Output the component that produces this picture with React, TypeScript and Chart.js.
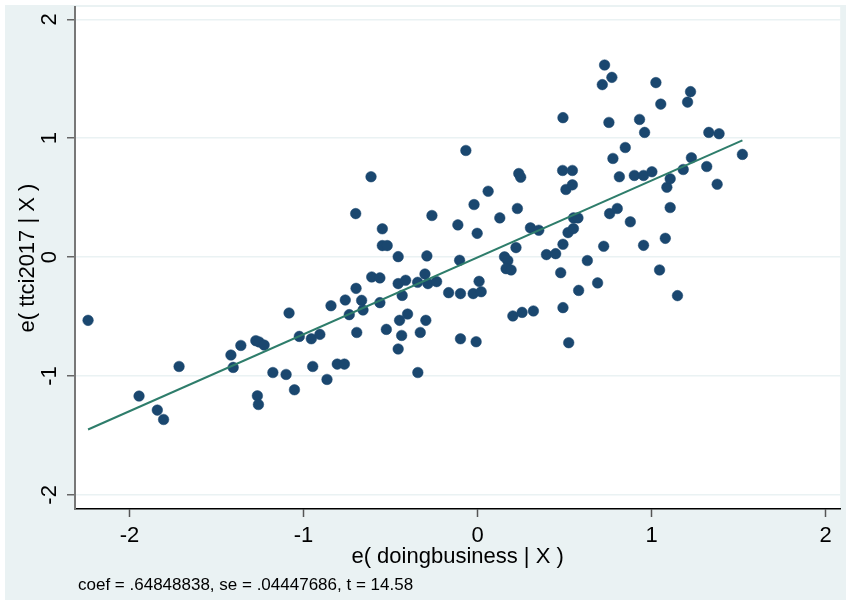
import React, { useEffect, useRef } from 'react';
import { Chart, registerables } from 'chart.js';

Chart.register(...registerables);

const xValues = [
  -2.238, -1.945, -1.840, -1.804, -1.715, -1.417, -1.404, -1.360, -1.274, -1.255,
  -1.226, -1.265, -1.259, -1.176, -1.100, -1.083, -1.052, -1.024, -0.955, -0.906,
  -0.947, -0.865, -0.842, -0.806, -0.765, -0.760, -0.737, -0.700, -0.698, -0.694,
  -0.666, -0.658, -0.612, -0.608, -0.561, -0.561, -0.547, -0.547, -0.519, -0.524,
  -0.456, -0.456, -0.448, -0.456, -0.436, -0.433, -0.413, -0.402, -0.344, -0.343,
  -0.329, -0.302, -0.297, -0.291, -0.285, -0.262, -0.235, -0.166, -0.113, -0.103,
  -0.098, -0.098, -0.067, -0.025, -0.020, -0.008, -0.002, 0.009, 0.021, 0.061,
  0.128, 0.155, 0.174, 0.164, 0.193, 0.203, 0.221, 0.229, 0.237, 0.248,
  0.256, 0.304, 0.321, 0.352, 0.396, 0.449, 0.478, 0.491, 0.489, 0.545,
  0.491, 0.491, 0.508, 0.545, 0.520, 0.551, 0.552, 0.577, 0.524, 0.581,
  0.631, 0.690, 0.717, 0.730, 0.772, 0.725, 0.755, 0.759, 0.778, 0.803,
  0.815, 0.849, 0.878, 0.901, 0.931, 0.954, 0.960, 0.954, 1.002, 1.025,
  1.046, 1.053, 1.079, 1.088, 1.107, 1.107, 1.149, 1.182, 1.207, 1.224,
  1.229, 1.317, 1.329, 1.377, 1.388, 1.522,
];

const yValues = [
  -0.532, -1.169, -1.287, -1.366, -0.920, -0.824, -0.928, -0.743, -0.703, -0.714,
  -0.740, -1.167, -1.240, -0.971, -0.987, -0.470, -1.116, -0.667, -0.687, -0.650,
  -0.920, -1.029, -0.409, -0.900, -0.900, -0.361, -0.484, 0.366, -0.263, -0.634,
  -0.364, -0.445, 0.676, -0.167, -0.175, -0.383, 0.238, 0.097, 0.097, -0.608,
  0.004, -0.223, -0.532, -0.773, -0.659, -0.322, -0.195, -0.479, -0.212, -0.971,
  -0.634, -0.142, -0.532, 0.010, -0.223, 0.350, -0.206, -0.299, 0.271, -0.027,
  -0.307, -0.687, 0.897, -0.307, 0.442, -0.712, 0.200, -0.204, -0.291, 0.554,
  0.330, 0.002, -0.029, -0.097, -0.108, -0.495, 0.080, 0.409, 0.703, 0.672,
  -0.465, 0.246, -0.453, 0.226, 0.021, 0.029, -0.131, 1.173, 0.729, 0.729,
  0.108, -0.425, 0.569, 0.608, 0.206, 0.240, 0.330, 0.330, -0.720, -0.280,
  -0.029, -0.217, 1.451, 1.616, 1.512, 0.091, 1.133, 0.366, 0.830, 0.409,
  0.676, 0.922, 0.297, 0.687, 1.158, 0.687, 1.049, 0.099, 0.718, 1.468,
  -0.108, 1.287, 0.158, 0.588, 0.659, 0.417, -0.324, 0.737, 1.304, 1.392,
  0.836, 0.762, 1.049, 0.613, 1.038, 0.864,
];

// Fitted line endpoints
const fitX = [-2.238, 1.522];
const fitY = [-1.450, 0.982];

const xTicks = [-2, -1, 0, 1, 2];
const yTicks = [-2, -1, 0, 1, 2];

const xTitle = 'e( doingbusiness | X )';
const yTitle = 'e( ttci2017 | X )';
const noteText = 'coef = .64848838, se = .04447686, t = 14.58';

const FONT = '"Liberation Sans", Arial, sans-serif';
const BG = '#EAF2F3';

const decorPlugin = {
  id: 'decor',
  beforeDraw(chart: any) {
    const { ctx, width, height, chartArea: a } = chart;
    ctx.save();
    ctx.fillStyle = '#ffffff';
    ctx.fillRect(0, 0, width, height);
    ctx.fillStyle = BG;
    ctx.fillRect(5, 5, width - 5, height - 5);
    ctx.fillStyle = '#ffffff';
    ctx.fillRect(a.left, a.top, a.right - a.left, a.bottom - a.top);
    ctx.restore();
  },
  afterDraw(chart: any) {
    const { ctx, chartArea: a } = chart;
    const ys = chart.scales.y;
    ctx.save();
    ctx.fillStyle = '#000000';
    ctx.textAlign = 'center';
    ctx.textBaseline = 'middle';
    ctx.font = `22px ${FONT}`;
    for (const v of yTicks) {
      const py = ys.getPixelForValue(v);
      ctx.save();
      ctx.translate(50, py);
      ctx.rotate(-Math.PI / 2);
      ctx.fillText(String(v), 0, 0);
      ctx.restore();
    }
    ctx.save();
    ctx.translate(28, (a.top + a.bottom) / 2);
    ctx.rotate(-Math.PI / 2);
    ctx.fillText(yTitle, 0, 0);
    ctx.restore();
    ctx.fillText(xTitle, (a.left + a.right) / 2, 557);
    ctx.font = `17px ${FONT}`;
    ctx.textAlign = 'left';
    ctx.fillText(noteText, 78, 585);
    ctx.restore();
  },
};

export default function App() {
  const ref = useRef<HTMLCanvasElement | null>(null);

  useEffect(() => {
    document.body.style.margin = '0';
    const canvas = ref.current;
    if (!canvas) return;
    const points = xValues.map((x, i) => ({ x, y: yValues[i] }));
    const fit = fitX.map((x, i) => ({ x, y: fitY[i] }));
    const chart = new Chart(canvas, {
      type: 'scatter',
      data: {
        datasets: [
          {
            type: 'line',
            data: fit,
            borderColor: '#2E7D6B',
            borderWidth: 2,
            pointRadius: 0,
            fill: false,
            order: 0,
          } as any,
          {
            data: points,
            backgroundColor: '#1A476F',
            borderColor: '#1A476F',
            borderWidth: 0.5,
            pointRadius: 5.3,
            order: 1,
          },
        ],
      },
      options: {
        animation: false,
        responsive: false,
        devicePixelRatio: 1,
        layout: { padding: { left: 5, top: 7, right: 4, bottom: 0 } },
        plugins: {
          legend: { display: false },
          tooltip: { enabled: false },
          title: { display: false },
        },
        scales: {
          x: {
            type: 'linear',
            min: -2.313,
            max: 2.084,
            afterBuildTicks: (scale: any) => {
              scale.ticks = xTicks.map((v) => ({ value: v }));
            },
            afterFit: (scale: any) => {
              scale.height = 91;
            },
            ticks: {
              color: '#000000',
              font: { family: FONT, size: 22 },
              padding: 6,
              maxRotation: 0,
              minRotation: 0,
              autoSkip: false,
            },
            grid: {
              drawOnChartArea: false,
              drawTicks: true,
              tickLength: 8,
              tickColor: '#555555',
              tickWidth: 1.5,
            },
            border: { display: true, color: '#000000', width: 1.5 },
          },
          y: {
            type: 'linear',
            min: -2.119,
            max: 2.104,
            afterBuildTicks: (scale: any) => {
              scale.ticks = yTicks.map((v) => ({ value: v }));
            },
            afterFit: (scale: any) => {
              scale.width = 70;
            },
            ticks: { display: false },
            grid: {
              color: BG,
              lineWidth: 1.5,
              drawTicks: true,
              tickLength: 8,
              tickColor: '#666666',
              tickWidth: 1.5,
            },
            border: { display: true, color: '#777777', width: 2 },
          },
        },
      },
      plugins: [decorPlugin],
    } as any);
    return () => chart.destroy();
  }, []);

  return (
    <canvas
      ref={ref}
      width={846}
      height={600}
      style={{ display: 'block', width: 846, height: 600 }}
    />
  );
}
